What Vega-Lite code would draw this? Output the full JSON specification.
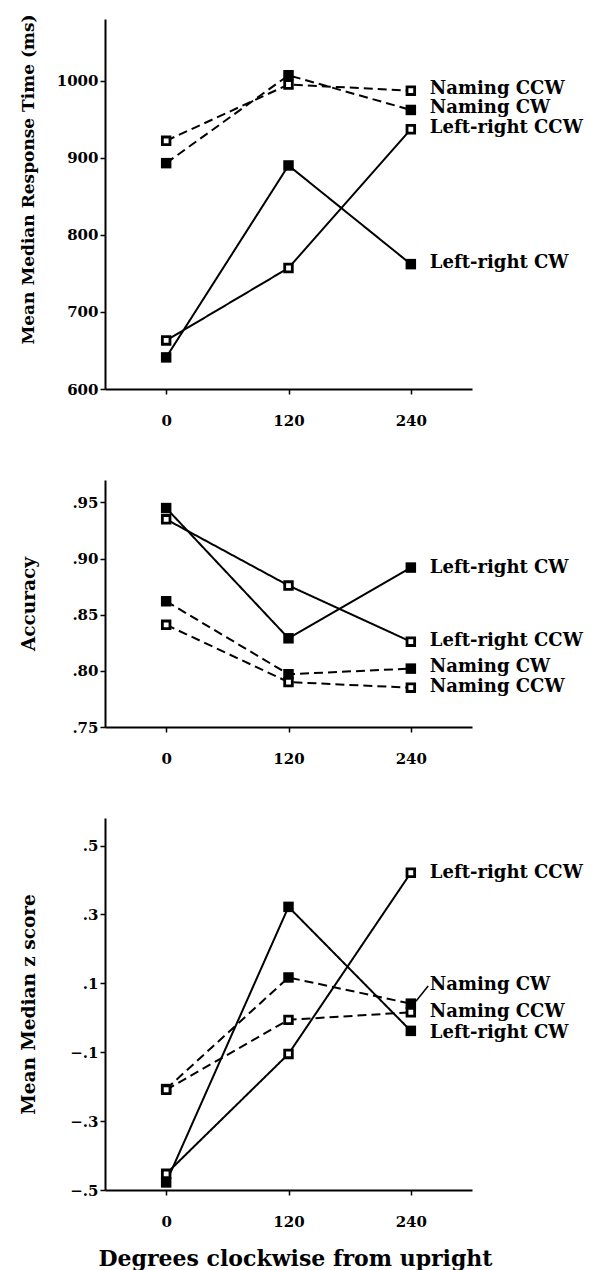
{
  "$schema": "https://vega.github.io/schema/vega-lite/v6.json",
  "background": "white",
  "padding": {"left": 18, "top": 13, "right": 2, "bottom": 2},
  "spacing": 52,
  "config": {
    "view": {"stroke": null},
    "font": "DejaVu Serif",
    "axis": {
      "grid": false,
      "domainColor": "black",
      "domainWidth": 2,
      "tickColor": "black",
      "tickWidth": 1.5,
      "tickSize": 5,
      "labelFont": "DejaVu Serif",
      "labelFontWeight": "bold",
      "labelFontSize": 15,
      "labelColor": "black",
      "titleFont": "DejaVu Serif",
      "titleFontWeight": "bold",
      "titleColor": "black"
    },
    "axisX": {"labelPadding": 19},
    "axisY": {"labelPadding": 2}
  },
  "datasets": {
    "rt": [
      {"deg": 0, "val": 922, "series": "Naming CCW", "style": "dashed", "marker": "open"},
      {"deg": 120, "val": 995, "series": "Naming CCW", "style": "dashed", "marker": "open"},
      {"deg": 240, "val": 987, "series": "Naming CCW", "style": "dashed", "marker": "open"},
      {"deg": 0, "val": 893, "series": "Naming CW", "style": "dashed", "marker": "filled"},
      {"deg": 120, "val": 1007, "series": "Naming CW", "style": "dashed", "marker": "filled"},
      {"deg": 240, "val": 962, "series": "Naming CW", "style": "dashed", "marker": "filled"},
      {"deg": 0, "val": 663, "series": "Left-right CCW", "style": "solid", "marker": "open"},
      {"deg": 120, "val": 757, "series": "Left-right CCW", "style": "solid", "marker": "open"},
      {"deg": 240, "val": 937, "series": "Left-right CCW", "style": "solid", "marker": "open"},
      {"deg": 0, "val": 641, "series": "Left-right CW", "style": "solid", "marker": "filled"},
      {"deg": 120, "val": 890, "series": "Left-right CW", "style": "solid", "marker": "filled"},
      {"deg": 240, "val": 762, "series": "Left-right CW", "style": "solid", "marker": "filled"}
    ],
    "rtLab": [
      {"deg": 240, "val": 989, "label": "Naming CCW"},
      {"deg": 240, "val": 964, "label": "Naming CW"},
      {"deg": 240, "val": 939, "label": "Left-right CCW"},
      {"deg": 240, "val": 763, "label": "Left-right CW"}
    ],
    "acc": [
      {"deg": 0, "val": 0.945, "series": "Left-right CW", "style": "solid", "marker": "filled"},
      {"deg": 120, "val": 0.829, "series": "Left-right CW", "style": "solid", "marker": "filled"},
      {"deg": 240, "val": 0.892, "series": "Left-right CW", "style": "solid", "marker": "filled"},
      {"deg": 0, "val": 0.935, "series": "Left-right CCW", "style": "solid", "marker": "open"},
      {"deg": 120, "val": 0.876, "series": "Left-right CCW", "style": "solid", "marker": "open"},
      {"deg": 240, "val": 0.826, "series": "Left-right CCW", "style": "solid", "marker": "open"},
      {"deg": 0, "val": 0.862, "series": "Naming CW", "style": "dashed", "marker": "filled"},
      {"deg": 120, "val": 0.797, "series": "Naming CW", "style": "dashed", "marker": "filled"},
      {"deg": 240, "val": 0.802, "series": "Naming CW", "style": "dashed", "marker": "filled"},
      {"deg": 0, "val": 0.841, "series": "Naming CCW", "style": "dashed", "marker": "open"},
      {"deg": 120, "val": 0.790, "series": "Naming CCW", "style": "dashed", "marker": "open"},
      {"deg": 240, "val": 0.785, "series": "Naming CCW", "style": "dashed", "marker": "open"}
    ],
    "accLab": [
      {"deg": 240, "val": 0.892, "label": "Left-right CW"},
      {"deg": 240, "val": 0.827, "label": "Left-right CCW"},
      {"deg": 240, "val": 0.803, "label": "Naming CW"},
      {"deg": 240, "val": 0.786, "label": "Naming CCW"}
    ],
    "z": [
      {"deg": 0, "val": -0.453, "series": "Left-right CCW", "style": "solid", "marker": "open"},
      {"deg": 120, "val": -0.105, "series": "Left-right CCW", "style": "solid", "marker": "open"},
      {"deg": 240, "val": 0.421, "series": "Left-right CCW", "style": "solid", "marker": "open"},
      {"deg": 0, "val": -0.478, "series": "Left-right CW", "style": "solid", "marker": "filled"},
      {"deg": 120, "val": 0.322, "series": "Left-right CW", "style": "solid", "marker": "filled"},
      {"deg": 240, "val": -0.038, "series": "Left-right CW", "style": "solid", "marker": "filled"},
      {"deg": 0, "val": -0.207, "series": "Naming CW", "style": "dashed", "marker": "filled"},
      {"deg": 120, "val": 0.117, "series": "Naming CW", "style": "dashed", "marker": "filled"},
      {"deg": 240, "val": 0.041, "series": "Naming CW", "style": "dashed", "marker": "filled"},
      {"deg": 0, "val": -0.209, "series": "Naming CCW", "style": "dashed", "marker": "open"},
      {"deg": 120, "val": -0.006, "series": "Naming CCW", "style": "dashed", "marker": "open"},
      {"deg": 240, "val": 0.016, "series": "Naming CCW", "style": "dashed", "marker": "open"}
    ],
    "zLab": [
      {"deg": 240, "val": 0.421, "label": "Left-right CCW"},
      {"deg": 240, "val": 0.095, "label": "Naming CW"},
      {"deg": 240, "val": 0.017, "label": "Naming CCW"},
      {"deg": 240, "val": -0.043, "label": "Left-right CW"}
    ],
    "zArrow": [
      {"deg": 245, "val": 0.048, "deg2": 257, "val2": 0.092}
    ]
  },
  "vconcat": [
    {
      "width": 367,
      "height": 370,
      "encoding": {
        "x": {"field": "deg", "type": "quantitative", "scale": {"domain": [-60, 300], "nice": false, "zero": false},
              "axis": {"values": [0, 120, 240], "title": null}},
        "y": {"field": "val", "type": "quantitative", "scale": {"domain": [600, 1080], "nice": false, "zero": false},
              "axis": {"values": [600, 700, 800, 900, 1000], "format": "d", "title": "Mean Median Response Time (ms)", "titleFontSize": 17,
                       "titleX": -77, "titleY": 160, "titleBaseline": "middle"}}
      },
      "layer": [
        {"data": {"name": "rt"}, "mark": {"type": "line", "color": "black", "strokeWidth": 2},
         "encoding": {"detail": {"field": "series"},
           "strokeDash": {"field": "style", "type": "nominal", "scale": {"domain": ["solid", "dashed"], "range": [[1, 0], [9, 5]]}, "legend": null}}},
        {"data": {"name": "rt"}, "transform": [{"filter": "datum.marker === 'filled'"}],
         "mark": {"type": "square", "filled": true, "color": "black", "size": 110, "opacity": 1}},
        {"data": {"name": "rt"}, "transform": [{"filter": "datum.marker === 'open'"}],
         "mark": {"type": "square", "filled": true, "fill": "white", "stroke": "black", "strokeWidth": 2.8, "size": 58, "opacity": 1}},
        {"data": {"name": "rtLab"}, "mark": {"type": "text", "align": "left", "baseline": "middle", "dx": 19, "font": "DejaVu Serif", "fontWeight": "bold", "fontSize": 18, "color": "black"},
         "encoding": {"text": {"field": "label"}}}
      ]
    },
    {
      "width": 367,
      "height": 247,
      "encoding": {
        "x": {"field": "deg", "type": "quantitative", "scale": {"domain": [-60, 300], "nice": false, "zero": false},
              "axis": {"values": [0, 120, 240], "title": null}},
        "y": {"field": "val", "type": "quantitative", "scale": {"domain": [0.75, 0.97], "nice": false, "zero": false},
              "axis": {"values": [0.75, 0.8, 0.85, 0.9, 0.95], "labelExpr": "replace(format(datum.value, '.2f'), '0.', '.')",
                       "title": "Accuracy", "titleFontSize": 18.5, "titleX": -77, "titleBaseline": "middle"}}
      },
      "layer": [
        {"data": {"name": "acc"}, "mark": {"type": "line", "color": "black", "strokeWidth": 2},
         "encoding": {"detail": {"field": "series"},
           "strokeDash": {"field": "style", "type": "nominal", "scale": {"domain": ["solid", "dashed"], "range": [[1, 0], [9, 5]]}, "legend": null}}},
        {"data": {"name": "acc"}, "transform": [{"filter": "datum.marker === 'filled'"}],
         "mark": {"type": "square", "filled": true, "color": "black", "size": 110, "opacity": 1}},
        {"data": {"name": "acc"}, "transform": [{"filter": "datum.marker === 'open'"}],
         "mark": {"type": "square", "filled": true, "fill": "white", "stroke": "black", "strokeWidth": 2.8, "size": 58, "opacity": 1}},
        {"data": {"name": "accLab"}, "mark": {"type": "text", "align": "left", "baseline": "middle", "dx": 19, "font": "DejaVu Serif", "fontWeight": "bold", "fontSize": 18, "color": "black"},
         "encoding": {"text": {"field": "label"}}}
      ]
    },
    {
      "width": 367,
      "height": 372,
      "encoding": {
        "x": {"field": "deg", "type": "quantitative", "scale": {"domain": [-60, 300], "nice": false, "zero": false},
              "axis": {"values": [0, 120, 240], "title": "Degrees clockwise from upright", "titleFontSize": 22, "titlePadding": 19, "titleX": 190}},
        "y": {"field": "val", "type": "quantitative", "scale": {"domain": [-0.5, 0.58], "nice": false, "zero": false},
              "axis": {"values": [-0.5, -0.3, -0.1, 0.1, 0.3, 0.5], "labelExpr": "replace(format(datum.value, '.1f'), '0.', '.')",
                       "title": "Mean Median z score", "titleFontSize": 18.5, "titleX": -77, "titleBaseline": "middle"}}
      },
      "layer": [
        {"data": {"name": "z"}, "mark": {"type": "line", "color": "black", "strokeWidth": 2},
         "encoding": {"detail": {"field": "series"},
           "strokeDash": {"field": "style", "type": "nominal", "scale": {"domain": ["solid", "dashed"], "range": [[1, 0], [9, 5]]}, "legend": null}}},
        {"data": {"name": "z"}, "transform": [{"filter": "datum.marker === 'filled'"}],
         "mark": {"type": "square", "filled": true, "color": "black", "size": 110, "opacity": 1}},
        {"data": {"name": "z"}, "transform": [{"filter": "datum.marker === 'open'"}],
         "mark": {"type": "square", "filled": true, "fill": "white", "stroke": "black", "strokeWidth": 2.8, "size": 58, "opacity": 1}},
        {"data": {"name": "zArrow"}, "mark": {"type": "rule", "color": "black", "strokeWidth": 1.5},
         "encoding": {"x2": {"field": "deg2"}, "y2": {"field": "val2"}}},
        {"data": {"name": "zLab"}, "mark": {"type": "text", "align": "left", "baseline": "middle", "dx": 19, "font": "DejaVu Serif", "fontWeight": "bold", "fontSize": 18, "color": "black"},
         "encoding": {"text": {"field": "label"}}}
      ]
    }
  ]
}
